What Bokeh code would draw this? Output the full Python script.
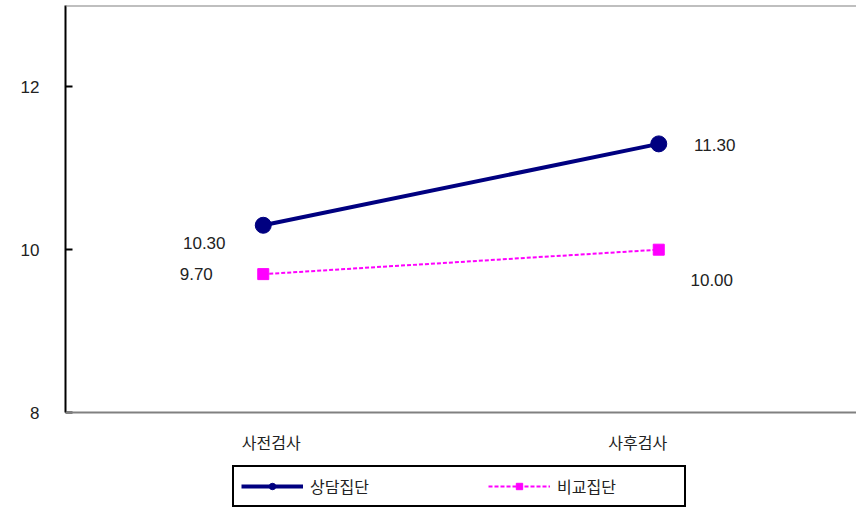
from bokeh.plotting import figure
from bokeh.models import (FactorRange, Range1d, FixedTicker, Span, Legend, LegendItem,
                          ColumnDataSource)
from bokeh.core.properties import value
from bokeh.embed import file_html
from bokeh.resources import INLINE

categories = ["사전검사", "사후검사"]
series_names = ["상담집단", "비교집단"]
counsel_values = [10.30, 11.30]
compare_values = [9.70, 10.00]
y_ticks = [8, 10, 12]
y_min, y_max = 8, 13

KR = "Noto Sans CJK KR"
NUM = "Liberation Sans"

# frame extends to the bottom of the page so the legend (inside the frame) is not clipped;
# the value axis is bounded to [8, 13]
px_per_unit = (412 - 5) / (y_max - y_min)
y_bottom = y_min - (509 - 412) / px_per_unit

p = figure(width=856, height=509, x_range=FactorRange(*categories, range_padding=0),
           y_range=Range1d(y_bottom, y_max), output_backend="svg", toolbar_location=None,
           min_border_left=65, min_border_right=0, min_border_top=5, min_border_bottom=0)
p.outline_line_color = None
p.xgrid.visible = False
p.ygrid.visible = False
p.xaxis.visible = False
p.background_fill_color = "white"
p.border_fill_color = "white"

# top border and category axis line
p.add_layout(Span(location=y_max, dimension="width", line_color="#808080", line_width=2))
p.add_layout(Span(location=y_min, dimension="width", line_color="#808080", line_width=2))

src1 = ColumnDataSource(dict(x=categories, y=counsel_values))
src2 = ColumnDataSource(dict(x=categories, y=compare_values))

l1 = p.line("x", "y", source=src1, line_color="#000080", line_width=4)
s1 = p.scatter("x", "y", source=src1, marker="circle", size=16,
               fill_color="#000080", line_color="#000080")
l2 = p.line("x", "y", source=src2, line_color="#FF00FF", line_width=2, line_dash="4 2")
s2 = p.scatter("x", "y", source=src2, marker="square", size=11,
               fill_color="#FF00FF", line_color="#FF00FF")

# category labels under the axis line
p.text(x=categories, y=[y_min] * len(categories), text=categories,
       x_offset=[8, -21], y_offset=29, text_font=value(KR), text_font_size="16px",
       text_color="#222222", text_align="center", text_baseline="middle")

# data labels
lab_style = dict(text_font=value(NUM), text_font_size="17px", text_color="#222222",
                 text_baseline="middle", text_align="center")
p.text(x=[categories[0]], y=[counsel_values[0]], text=[f"{counsel_values[0]:.2f}"],
       x_offset=-59, y_offset=18, **lab_style)
p.text(x=[categories[1]], y=[counsel_values[1]], text=[f"{counsel_values[1]:.2f}"],
       x_offset=56, y_offset=1, **lab_style)
p.text(x=[categories[0]], y=[compare_values[0]], text=[f"{compare_values[0]:.2f}"],
       x_offset=-67, y_offset=0, **lab_style)
p.text(x=[categories[1]], y=[compare_values[1]], text=[f"{compare_values[1]:.2f}"],
       x_offset=53, y_offset=30, **lab_style)

# value axis
p.yaxis.bounds = (y_min, y_max)
p.yaxis.ticker = FixedTicker(ticks=y_ticks)
p.yaxis.axis_line_color = "black"
p.yaxis.axis_line_width = 2
p.yaxis.major_tick_in = 7
p.yaxis.major_tick_out = 0
p.yaxis.major_tick_line_width = 2
p.yaxis.minor_tick_line_color = None
p.yaxis.major_label_standoff = 26
p.yaxis.major_label_text_font = NUM
p.yaxis.major_label_text_font_size = "17px"
p.yaxis.major_label_text_color = "#222222"

legend = Legend(items=[LegendItem(label=series_names[0], renderers=[l1, s1]),
                       LegendItem(label=series_names[1], renderers=[l2, s2])],
                orientation="horizontal", location=(167, 2),
                border_line_color="black", border_line_width=2, border_line_alpha=1,
                background_fill_color="white", background_fill_alpha=1,
                label_text_font=KR, label_text_font_size="16px",
                label_text_color="#222222",
                glyph_width=62, glyph_height=16, label_standoff=7,
                label_width=120, spacing=58, padding=7, margin=0,
                label_height=18)
p.add_layout(legend, "center")

open("out.html", "w").write(file_html(p, INLINE))
